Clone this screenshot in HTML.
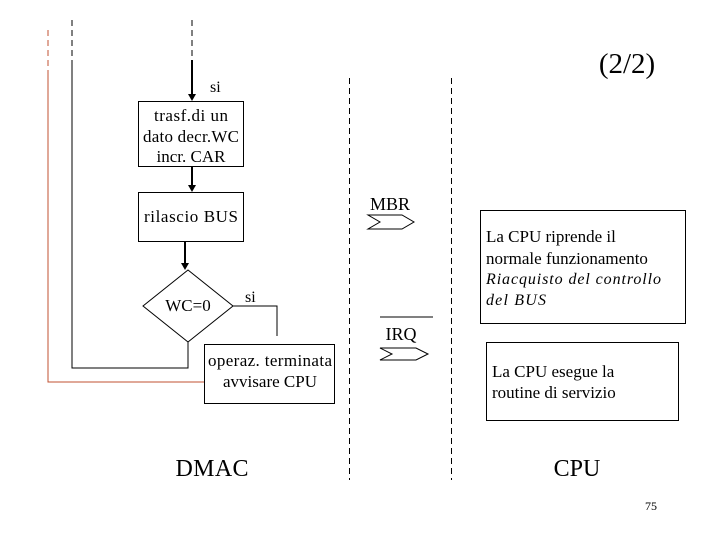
<!DOCTYPE html>
<html><head><style>
body{margin:0;background:#fff;}
svg text{font-family:"Liberation Serif",serif;fill:#000;}
</style></head><body>
<svg width="720" height="540" xmlns="http://www.w3.org/2000/svg">
<line x1="48" y1="30" x2="48" y2="70" stroke="#c05030" stroke-width="1" stroke-dasharray="6,4"/>
<polyline points="48,70 48,382 204,382" fill="none" stroke="#c05030" stroke-width="1"/>
<line x1="72" y1="20" x2="72" y2="62" stroke="#000" stroke-dasharray="6,4"/>
<polyline points="72,62 72,368 188,368 188,342" fill="none" stroke="#000"/>
<line x1="192" y1="20" x2="192" y2="60" stroke="#000" stroke-dasharray="6,4"/>
<line x1="192" y1="60" x2="192" y2="95" stroke="#000" stroke-width="2"/>
<path d="M188,94 L196,94 L192,101 z"/>
<text x="210" y="92" font-size="16">si</text>
<rect x="138.5" y="101.5" width="105" height="65" fill="none" stroke="#000"/>
<text x="191" y="121" font-size="17" text-anchor="middle" textLength="74">trasf.di un</text>
<text x="191" y="142" font-size="17" text-anchor="middle" textLength="96">dato decr.WC</text>
<text x="191" y="162" font-size="17" text-anchor="middle">incr. CAR</text>
<line x1="192" y1="167" x2="192" y2="186" stroke="#000" stroke-width="2"/>
<path d="M188,185 L196,185 L192,192 z"/>
<rect x="138.5" y="192.5" width="105" height="49" fill="none" stroke="#000"/>
<text x="191" y="222" font-size="17" text-anchor="middle" textLength="94">rilascio BUS</text>
<line x1="185" y1="242" x2="185" y2="264" stroke="#000" stroke-width="2"/>
<path d="M181,263 L189,263 L185,270 z"/>
<polygon points="188,270 233,306 188,342 143,306" fill="none" stroke="#000"/>
<text x="188" y="311" font-size="17" text-anchor="middle">WC=0</text>
<text x="245" y="302" font-size="16">si</text>
<polyline points="233,306 277,306 277,336" fill="none" stroke="#000"/>
<rect x="204.5" y="344.5" width="130" height="59" fill="none" stroke="#000"/>
<text x="270" y="366" font-size="17" text-anchor="middle" textLength="124">operaz. terminata</text>
<text x="270" y="387" font-size="17" text-anchor="middle">avvisare CPU</text>
<text x="212" y="476" font-size="24" text-anchor="middle" textLength="73">DMAC</text>
<line x1="349.5" y1="78" x2="349.5" y2="480" stroke="#000" stroke-dasharray="6,4"/>
<line x1="451.5" y1="78" x2="451.5" y2="480" stroke="#000" stroke-dasharray="6,4"/>
<text x="627" y="73" font-size="29" text-anchor="middle">(2/2)</text>
<text x="390" y="210" font-size="18" text-anchor="middle">MBR</text>
<polygon points="368,215 402,215 414,222 402,229 368,229 380,222" fill="none" stroke="#000"/>
<line x1="380" y1="317" x2="433" y2="317" stroke="#000"/>
<text x="401" y="340" font-size="18" text-anchor="middle">IRQ</text>
<polygon points="380,348 416,348 428,354 416,360 380,360 392,354" fill="none" stroke="#000"/>
<rect x="480.5" y="210.5" width="205" height="113" fill="none" stroke="#000"/>
<text x="486" y="242" font-size="17">La CPU riprende il</text>
<text x="486" y="264" font-size="17">normale funzionamento</text>
<text x="486" y="284" font-size="16" font-style="italic" font-family="Liberation Sans, sans-serif" textLength="175">Riacquisto del controllo</text>
<text x="486" y="305" font-size="16" font-style="italic" font-family="Liberation Sans, sans-serif" textLength="60">del BUS</text>
<rect x="486.5" y="342.5" width="192" height="78" fill="none" stroke="#000"/>
<text x="492" y="377" font-size="17">La CPU esegue la</text>
<text x="492" y="398" font-size="17">routine di servizio</text>
<text x="577" y="476" font-size="24" text-anchor="middle">CPU</text>
<text x="651" y="510" font-size="12" text-anchor="middle">75</text>
</svg>
</body></html>
